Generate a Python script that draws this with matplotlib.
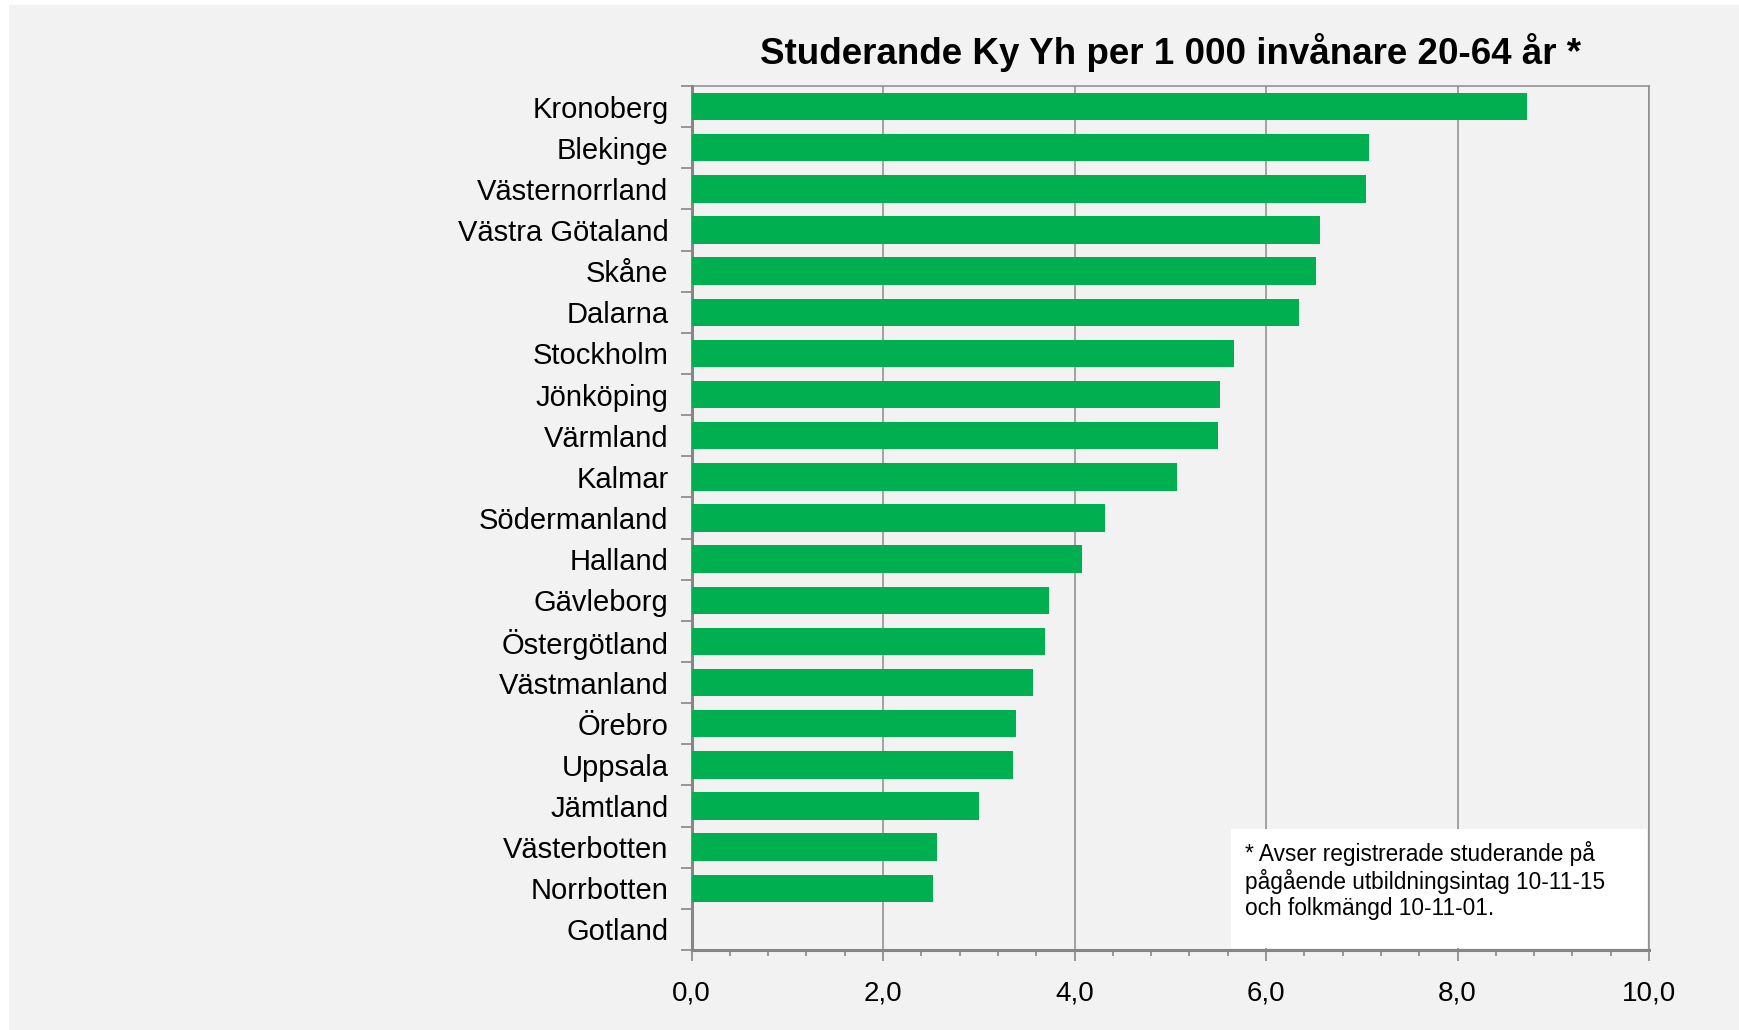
import numpy as np
import matplotlib.pyplot as plt
from matplotlib.patches import Rectangle
from matplotlib.ticker import MultipleLocator, FixedLocator, NullFormatter

plt.rcParams['font.family'] = ['Liberation Sans', 'DejaVu Sans']

regions = ['Kronoberg', 'Blekinge', 'Västernorrland', 'Västra Götaland', 'Skåne',
           'Dalarna', 'Stockholm', 'Jönköping', 'Värmland', 'Kalmar',
           'Södermanland', 'Halland', 'Gävleborg', 'Östergötland', 'Västmanland',
           'Örebro', 'Uppsala', 'Jämtland', 'Västerbotten', 'Norrbotten', 'Gotland']
students = [8.73, 7.08, 7.04, 6.56, 6.52,
            6.34, 5.67, 5.52, 5.50, 5.07,
            4.32, 4.08, 3.73, 3.69, 3.57,
            3.39, 3.36, 3.00, 2.56, 2.52, 0.0]
x_ticks = [0, 2, 4, 6, 8, 10]
x_labels = ['0,0', '2,0', '4,0', '6,0', '8,0', '10,0']

title = 'Studerande Ky Yh per 1 000 invånare 20-64 år *'
note = '* Avser registrerade studerande på\npågående utbildningsintag 10-11-15\noch folkmängd 10-11-01.'

bg = '#f2f2f2'
green = '#00b050'
grey = '#868686'

fig = plt.figure(figsize=(17.39, 10.30), dpi=100, facecolor='white')
# light grey chart area, white hairline along the top and left
fig.patches.append(Rectangle((9 / 1739, 0), 1, 1 - 5 / 1030,
                             transform=fig.transFigure, facecolor=bg, edgecolor='none', zorder=-10))

ax = fig.add_axes([691.5 / 1739, 1 - 950 / 1030, (1649 - 691.5) / 1739, (950 - 86) / 1030])
ax.set_facecolor(bg)

y = np.arange(len(regions))
ax.barh(y, students, height=0.67, color=green, edgecolor='none', zorder=3)

ax.set_xlim(0, 10)
ax.set_ylim(len(regions) - 0.5, -0.5)

ax.xaxis.set_major_locator(FixedLocator(x_ticks))
ax.set_xticklabels(x_labels, fontsize=20)
ax.xaxis.set_minor_locator(MultipleLocator(0.4))
ax.tick_params(axis='x', which='major', length=8, width=1.2, color=grey, pad=14)
ax.tick_params(axis='x', which='minor', length=4, width=1.2, color=grey)

# ticks between categories, labels centred on the bars
ax.yaxis.set_major_locator(FixedLocator(np.arange(len(regions) + 1) - 0.5))
ax.yaxis.set_major_formatter(NullFormatter())
ax.yaxis.set_minor_locator(FixedLocator(y))
ax.set_yticklabels(regions, minor=True, fontsize=21)
ax.tick_params(axis='y', which='major', length=8, width=1.2, color=grey)
ax.tick_params(axis='y', which='minor', length=0, pad=16.5)

ax.grid(axis='x', which='major', color='#8c8c8c', linewidth=1.1, zorder=1)

for side in ['left', 'bottom']:
    ax.spines[side].set_color(grey)
    ax.spines[side].set_linewidth(2.2)
for side in ['top', 'right']:
    ax.spines[side].set_color('#8c8c8c')
    ax.spines[side].set_linewidth(1.1)

ax.set_title(title, fontsize=26.5, fontweight='bold', pad=16)

ax.add_patch(Rectangle((0.563, 0.002), 0.435, 0.138, transform=ax.transAxes,
                       facecolor='white', edgecolor='none', zorder=4))
ax.text(0.578, 0.126, note, transform=ax.transAxes, fontsize=16.3, va='top', ha='left',
        linespacing=1.16, zorder=5)

fig.savefig('out.png', dpi=100, facecolor=fig.get_facecolor())
